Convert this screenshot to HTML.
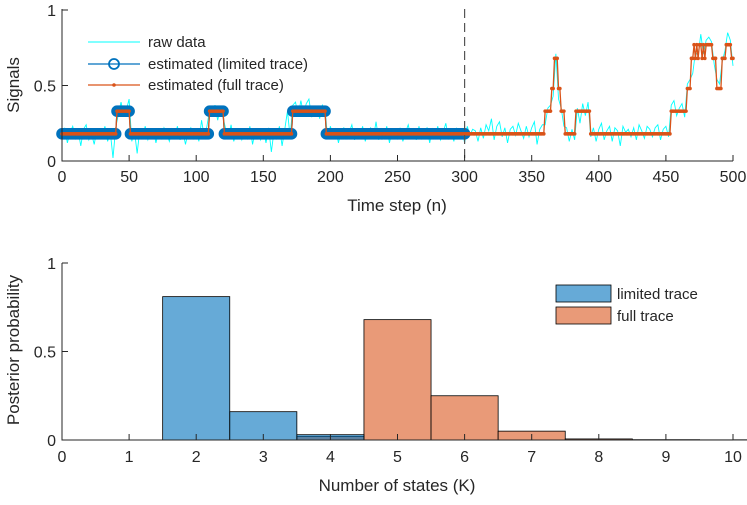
<!DOCTYPE html>
<html><head><meta charset="utf-8"><style>
body{margin:0;background:#fff;}
svg text{font-family:"Liberation Sans",Arial,sans-serif;fill:#262626;}
</style></head><body>
<svg id="c" width="747" height="500" xmlns="http://www.w3.org/2000/svg"></svg>
<script>
// ---- top chart data ----
const segStarts=[0,41,51,110,121,172,197,360,365,367,370,372,375,383,394,454,466,469,471,472,473,474,475,477,478,479,480,481,485,488,492,495,499];
const segLevels=[0.18,0.33,0.18,0.33,0.18,0.33,0.18,0.33,0.48,0.68,0.48,0.33,0.18,0.33,0.18,0.33,0.48,0.68,0.77,0.68,0.77,0.68,0.77,0.68,0.77,0.68,0.77,0.77,0.68,0.48,0.68,0.77,0.68];
const limitedEnd=300;
const noise=[-0.02,0.04,-0.06,0.01,0.05,-0.03,0.02,-0.08,0.03,0.06,-0.04,0.0,-0.07,0.03,0.02,-0.01,0.05,-0.05,0.01,-0.16,0.04,-0.02,0.06,-0.03,0.01,0.08,-0.05,0.02,-0.13,0.03,-0.02,0.05,-0.04,0.01,0.03,-0.06,0.02,-0.03,0.04,0.0,-0.05,0.03,-0.02,0.05,-0.04,0.02,-0.07,0.01,0.04,-0.03,0.02,-0.05,0.09,-0.02,0.05,0.01,-0.03,0.04,-0.06,0.02,-0.04,0.03,-0.02,0.06,-0.05,0.01,0.03,-0.04,0.02,-0.03,0.05,-0.07,0.02,0.01,-0.04,0.03,-0.06,0.04,-0.12,0.02,-0.03,0.05,-0.08,0.03,0.15,-0.02,0.04,0.06,-0.03,0.07,-0.02,0.05,0.08,-0.04,0.02,0.03,-0.05,0.04,0.01,-0.03,0.05,-0.02,0.03,-0.06,0.02,0.04,-0.03,0.01,0.06,-0.04,0.03,-0.02,0.05,-0.05,0.02,0.04,-0.03,0.08,-0.04,0.03,-0.02,0.05,-0.06,0.02,0.03,-0.03,0.04,-0.05,0.01,0.06,-0.02,0.03,-0.04,0.05,-0.03,0.02,0.04,-0.06,0.03,-0.02,0.05,-0.04,0.01,0.07,-0.03,0.02,-0.05,0.04,-0.02,0.03,-0.06,0.05,-0.01,0.03,0.02,-0.05,0.04,-0.03,0.06,0.02,0.1,-0.04,0.05,0.08,-0.02,0.04,-0.06,0.03,0.05,-0.01,0.07,0.02,-0.03,0.05,-0.02,0.04,0.08,-0.07,0.03,0.06,-0.09,0.02,0.04,-0.05,0.03,-0.07,0.02,-0.1,0.04,-0.05,0.03,-0.04,0.02,-0.08,0.05,-0.03,0.06,-0.02,0.04,-0.05,0.03,0.07,-0.04,0.02,0.05,-0.05,0.04,0.02,-0.08,0.05,0.01,0.03,-0.02,0.04,-0.04,0.06,0.02,-0.03,0.05,0.03,-0.02,0.04,0.06,-0.04,0.03,0.05,-0.02,0.04,0.07,-0.03,0.02,0.05,-0.04,0.03,0.06,-0.1,0.04,0.02,0.07,-0.06,0.03,0.05,0.02,-0.04,0.06,0.03,-0.02,0.05,0.08,0.03,-0.05,0.04,0.02,-0.09];
// ---- bottom chart data ----
const kCats=[1,2,3,4,5,6,7,8,9,10];
const limitedProb=[0,0.81,0.16,0.03,0,0,0,0,0,0];
const fullProb=[0,0,0,0.02,0.68,0.25,0.05,0.006,0.002,0.001];
const xTicksTop=[0,50,100,150,200,250,300,350,400,450,500];
const yTicksTop=[0,0.5,1];
const xTicksBot=[0,1,2,3,4,5,6,7,8,9,10];
const yTicksBot=[0,0.5,1];

const NS="http://www.w3.org/2000/svg";
const svg=document.getElementById('c');
function mk(t,a,p){const e=document.createElementNS(NS,t);for(const k in a)e.setAttribute(k,a[k]);(p||svg).appendChild(e);return e;}
const L=62,R=733;
const tx=v=>L+(v/500)*(R-L), ty=v=>161-v*151;
const bx=v=>L+(v/10)*(R-L), by=v=>440-v*177;
function level(n){let l=segLevels[0];for(let i=0;i<segStarts.length;i++){if(n>=segStarts[i])l=segLevels[i];}return l;}

// top axes
let g=mk('g',{});


// raw data
let rp=[];noise.forEach((d,i)=>{const n=i*2;if(n<=500)rp.push(tx(n)+','+ty(Math.max(0,level(n)+d)));});
let raw=mk('polyline',{points:rp.join(' '),fill:'none',stroke:'#00FFFF','stroke-width':0.9},g);


// limited trace
let lp=[];for(let n=0;n<=limitedEnd;n++)lp.push(tx(n)+','+ty(level(n)));
let lim=mk('g',{},g);


for(let n=0;n<=limitedEnd;n++)mk('circle',{cx:tx(n),cy:ty(level(n)),r:4.8,fill:'none',stroke:'#0072BD','stroke-width':2},lim);
mk('polyline',{points:lp.join(' '),fill:'none',stroke:'#0072BD','stroke-width':1.2},lim);
// full trace
let fp=[];for(let n=0;n<=500;n++)fp.push(tx(n)+','+ty(level(n)));
let full=mk('g',{},g);


mk('polyline',{points:fp.join(' '),fill:'none',stroke:'#D95319','stroke-width':1.3},full);
for(let n=0;n<=500;n++)mk('circle',{cx:tx(n),cy:ty(level(n)),r:1.8,fill:'#D95319'},full);
// dashed line
let dl=mk('line',{x1:tx(300),x2:tx(300),y1:9,y2:161,stroke:'#555','stroke-dasharray':'9,5','stroke-width':1.2},g);


// axes lines
mk('path',{d:`M${L},9 V161 H${R}`,fill:'none',stroke:'#262626','stroke-width':1},g);
xTicksTop.forEach(v=>{mk('line',{x1:tx(v),x2:tx(v),y1:161,y2:155,stroke:'#262626'},g);
 let t=mk('text',{x:tx(v),y:182,'text-anchor':'middle','font-size':16},g);t.textContent=v;
 });
yTicksTop.forEach(v=>{mk('line',{x1:L,x2:L+6,y1:ty(v),y2:ty(v),stroke:'#262626'},g);
 let t=mk('text',{x:L-6,y:ty(v)+6,'text-anchor':'end','font-size':16},g);t.textContent=v;
 });
let xl=mk('text',{x:397,y:211,'text-anchor':'middle','font-size':17},g);xl.textContent='Time step (n)';

let yl=mk('text',{x:19,y:85,'text-anchor':'middle','font-size':17,transform:'rotate(-90 19 85)'},g);yl.textContent='Signals';

// top legend
let lg=mk('g',{},g);


mk('line',{x1:88,x2:140,y1:42,y2:42,stroke:'#00FFFF'},lg);
mk('line',{x1:88,x2:140,y1:64,y2:64,stroke:'#0072BD','stroke-width':1.2},lg);
mk('circle',{cx:114,cy:64,r:5,fill:'none',stroke:'#0072BD','stroke-width':1.8},lg);
mk('line',{x1:88,x2:140,y1:85,y2:85,stroke:'#D95319','stroke-width':1.2},lg);
mk('circle',{cx:114,cy:85,r:1.8,fill:'#D95319'},lg);
[['raw data',42],['estimated (limited trace)',64],['estimated (full trace)',85]].forEach(([s,y])=>{let t=mk('text',{x:148,y:y+5,'font-size':15},lg);t.textContent=s;
 });

// bottom axes
let g2=mk('g',{});


const bw=(R-L)/10;
kCats.forEach((k,i)=>{const v=fullProb[i];if(v>0){let r=mk('rect',{x:bx(k)-bw/2,y:by(v),width:bw,height:440-by(v),fill:'#E99A78',stroke:'#000','stroke-width':0.8},g2);
 }});
kCats.forEach((k,i)=>{const v=limitedProb[i];if(v>0){let r=mk('rect',{x:bx(k)-bw/2,y:by(v),width:bw,height:440-by(v),fill:'#0072BD','fill-opacity':0.6,stroke:'#000','stroke-width':0.8},g2);
 }});
mk('path',{d:`M${L},263 V440 H${R}`,fill:'none',stroke:'#262626','stroke-width':1},g2);
xTicksBot.forEach(v=>{mk('line',{x1:bx(v),x2:bx(v),y1:440,y2:434,stroke:'#262626'},g2);
 let t=mk('text',{x:bx(v),y:462,'text-anchor':'middle','font-size':16},g2);t.textContent=v;
 });
yTicksBot.forEach(v=>{mk('line',{x1:L,x2:L+6,y1:by(v),y2:by(v),stroke:'#262626'},g2);
 let t=mk('text',{x:L-6,y:by(v)+6,'text-anchor':'end','font-size':16},g2);t.textContent=v;
 });
let xl2=mk('text',{x:397,y:491,'text-anchor':'middle','font-size':17},g2);xl2.textContent='Number of states (K)';

let yl2=mk('text',{x:19,y:350,'text-anchor':'middle','font-size':17,transform:'rotate(-90 19 350)'},g2);yl2.textContent='Posterior probability';

let lg2=mk('g',{},g2);


mk('rect',{x:556,y:285,width:55,height:17,fill:'#66AAD7',stroke:'#000','stroke-width':0.8},lg2);
mk('rect',{x:556,y:307,width:55,height:17,fill:'#E99A78',stroke:'#000','stroke-width':0.8},lg2);
[['limited trace',299],['full trace',321]].forEach(([s,y])=>{let t=mk('text',{x:617,y:y,'font-size':15},lg2);t.textContent=s;
 });
</script>
</body></html>
